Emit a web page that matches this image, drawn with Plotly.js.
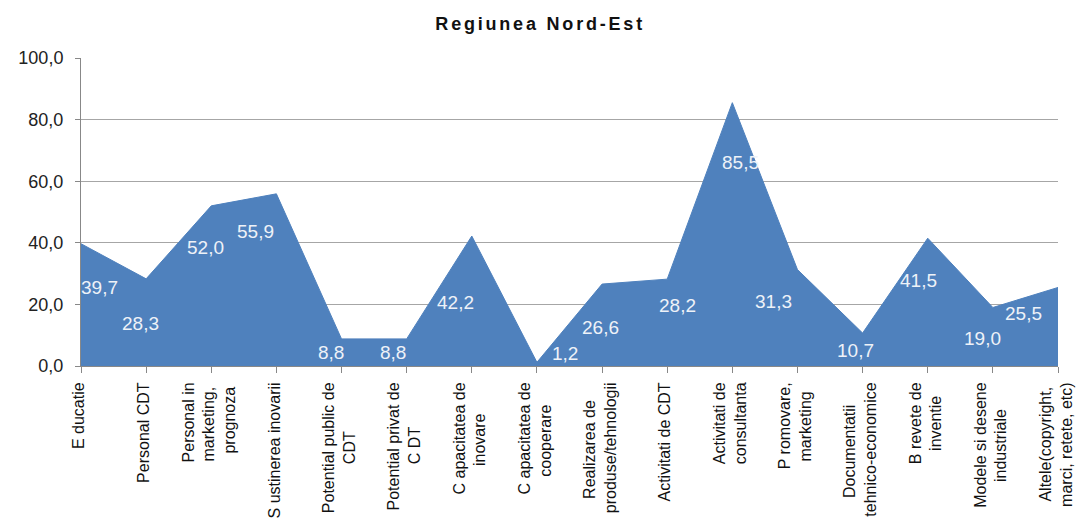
<!DOCTYPE html>
<html>
<head>
<meta charset="utf-8">
<script src="https://cdn.plot.ly/plotly-3.0.1.min.js"></script>
<style>
html,body{margin:0;padding:0;background:#fff;}
#chart{width:1076px;height:524px;}
#chart .gtitle{letter-spacing:2.8px;}
</style>
</head>
<body>
<div id="chart"></div>
<script>
const categories = [
  "E ducatie",
  "Personal CDT",
  "Personal in<br>marketing,<br>prognoza",
  "S ustinerea inovarii",
  "Potential public de<br>CDT",
  "Potential privat de<br>C DT",
  "C apacitatea de<br>inovare",
  "C apacitatea de<br>cooperare",
  "Realizarea de<br>produse/tehnologii",
  "Activitati de CDT",
  "Activitati de<br>consultanta",
  "P romovare,<br>marketing",
  "Documentatii<br>tehnico-economice",
  "B revete de<br>inventie",
  "Modele si desene<br>industriale",
  "Altele(copyright,<br>marci, retete, etc)"
];
const values = [39.7, 28.3, 52.0, 55.9, 8.8, 8.8, 42.2, 1.2, 26.6, 28.2, 85.5, 31.3, 10.7, 41.5, 19.0, 25.5];
const yTicks = [0, 20, 40, 60, 80, 100];

// label offsets (px) relative to each point
const labelDX = [18, -6, -6, -21, -11, -14, -16, 28, -2, 10, 8, -24, -7, -9, -10, -35];
const labelDY = [-44, -45, -42, -38, -14, -14, -66, 9, -43, -26, -60, -32, -17, -42, -31, -26];

const fmt = v => v.toFixed(1).replace('.', ',');
const FONT = 'Liberation Sans, Arial, sans-serif';
const CAT_SIZE = 16;

// centre the shorter lines of each rotated label on the longest one
const ctx = document.createElement('canvas').getContext('2d');
ctx.font = CAT_SIZE + 'px "Liberation Sans", Arial, sans-serif';
const NBSP = '\u00a0';
function textLen(s) {
  let w = ctx.measureText(s).width;
  if (!(w > 0.5)) w = s.length * CAT_SIZE * 0.52;
  return w;
}
let nbspW = ctx.measureText(NBSP).width;
if (!(nbspW > 0.5)) nbspW = CAT_SIZE * 0.278;
const tickText = categories.map(c => {
  const lines = c.split('<br>');
  const widths = lines.map(textLen);
  const Lmax = Math.max(...widths);
  return lines.map((s, j) => s + NBSP.repeat(Math.round((Lmax - widths[j]) / 2 / nbspW))).join('<br>');
});

const trace = {
  x: categories,
  y: values,
  type: 'scatter',
  mode: 'lines',
  fill: 'tozeroy',
  fillcolor: '#4f81bd',
  line: {color: '#4f81bd', width: 1},
  hoverinfo: 'skip'
};

const valueLabels = values.map((v, i) => ({
  x: categories[i], y: v, xref: 'x', yref: 'y',
  text: fmt(v), showarrow: false,
  xshift: labelDX[i], yshift: labelDY[i],
  font: {family: FONT, size: 19, color: '#eef2f8'}
}));

const layout = {
  width: 1076, height: 524,
  margin: {l: 81, r: 18, t: 57.5, b: 158, pad: 0},
  paper_bgcolor: '#ffffff', plot_bgcolor: '#ffffff',
  separators: ', ',
  showlegend: false,
  title: {
    text: '<b>Regiunea Nord-Est</b>',
    x: 0.502, xanchor: 'center', y: 0.955, yanchor: 'middle',
    font: {family: FONT, size: 18, color: '#111'}
  },
  xaxis: {
    type: 'category',
    range: [0, categories.length - 1],
    tickmode: 'array',
    tickvals: categories,
    ticktext: tickText,
    tickangle: -90,
    ticks: 'outside', ticklen: 6, tickcolor: '#888', tickwidth: 1,
    ticklabelstandoff: 3,
    ticklabelshift: -2,
    showline: true, linecolor: '#888', linewidth: 1,
    showgrid: false, zeroline: false,
    tickfont: {family: FONT, size: CAT_SIZE, color: '#111'},
    automargin: false
  },
  yaxis: {
    range: [0, 100],
    tickvals: yTicks,
    tickformat: '.1f',
    ticks: 'outside', ticklen: 5, tickcolor: '#888',
    ticklabelstandoff: 8,
    showline: true, linecolor: '#888', linewidth: 1,
    showgrid: true, gridcolor: '#a6a6a6', gridwidth: 1,
    zeroline: false,
    tickfont: {family: FONT, size: 18, color: '#222'},
    automargin: false
  },
  annotations: valueLabels
};

Plotly.newPlot('chart', [trace], layout, {displayModeBar: false, staticPlot: true});
</script>
</body>
</html>
